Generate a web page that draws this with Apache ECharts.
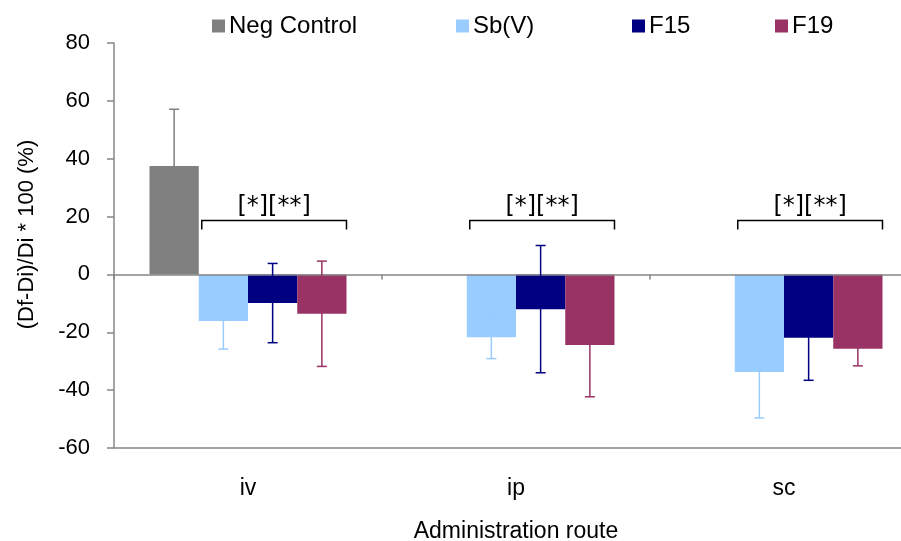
<!DOCTYPE html>
<html>
<head>
<meta charset="utf-8">
<script src="https://cdn.jsdelivr.net/npm/echarts@6/dist/echarts.min.js"></script>
<style>
  html, body { margin: 0; padding: 0; background: #fff; }
  #chart { width: 901px; height: 541px; }
</style>
</head>
<body>
<div id="chart"></div>
<script>
// categories and series
var categories = ['iv', 'ip', 'sc'];
var seriesNames = ['Neg Control', 'Sb(V)', 'F15', 'F19'];
var negControl = [37.5, null, null];
var sbV = [-16.1, -21.7, -33.7];
var f15 = [-9.9, -12.0, -21.9];
var f19 = [-13.6, -24.4, -25.7];
// error bars (+/-)
var negControlErr = [19.6, null, null];
var sbVErr = [9.7, 7.4, 15.9];
var f15Err = [13.7, 22.0, 14.7];
var f19Err = [18.2, 17.9, 5.9];
// significance brackets
var bracketLevel = [18.6, 18.6, 18.6];
var bracketText = ['[*][**]', '[*][**]', '[*][**]'];
// y axis ticks
var yMin = -60, yMax = 80, yStep = 20;

var colors = ['#808080', '#99CCFF', '#000080', '#993366'];
var values = [negControl, sbV, f15, f19];
var errs = [negControlErr, sbVErr, f15Err, f19Err];
var catGap = 0.265;
var font = "'Liberation Sans', Arial, sans-serif";

var myChart = echarts.init(document.getElementById('chart'), null, { renderer: 'canvas' });

function barCenter(api, idx, k) {
  var c = api.coord([idx, 0]);
  var band = api.size([1, 0])[0];
  var total = band * (1 - catGap);
  var w = total / seriesNames.length;
  return { x: c[0] - total / 2 + w * (k + 0.5), w: w, total: total, cx: c[0] };
}

function errorSeries(k) {
  var data = [];
  values[k].forEach(function (v, i) {
    if (v != null && errs[k][i] != null) data.push([i, v, errs[k][i]]);
  });
  return {
    type: 'custom',
    name: seriesNames[k] + ' err',
    z: 5,
    clip: false,
    encode: { x: 0, y: 1 },
    data: data,
    renderItem: function (params, api) {
      var idx = api.value(0), v = api.value(1), e = api.value(2);
      var b = barCenter(api, idx, k);
      var top = api.coord([idx, v + e])[1];
      var bot = api.coord([idx, v - e])[1];
      var st = { stroke: colors[k], lineWidth: 1.5 };
      return {
        type: 'group',
        children: [
          { type: 'line', shape: { x1: b.x, y1: top, x2: b.x, y2: bot }, style: st },
          { type: 'line', shape: { x1: b.x - 5, y1: top, x2: b.x + 5, y2: top }, style: st },
          { type: 'line', shape: { x1: b.x - 5, y1: bot, x2: b.x + 5, y2: bot }, style: st }
        ]
      };
    }
  };
}

var bracketData = bracketLevel.map(function (v, i) { return [i, v, bracketText[i]]; });

var series = seriesNames.map(function (name, k) {
  return {
    type: 'bar',
    name: name,
    data: values[k],
    barGap: '0%',
    barCategoryGap: (catGap * 100) + '%',
    itemStyle: { color: colors[k] },
    z: 2
  };
});
for (var k = 0; k < seriesNames.length; k++) series.push(errorSeries(k));
series.push({
  type: 'custom',
  name: 'brackets',
  z: 6,
  clip: false,
  encode: { x: 0, y: 1 },
  data: bracketData,
  renderItem: function (params, api) {
    var idx = api.value(0), v = api.value(1);
    var b = barCenter(api, idx, 0);
    var x1 = b.cx - b.total / 2 + b.w + 3;
    var x2 = b.cx + b.total / 2;
    var y = api.coord([idx, v])[1];
    return {
      type: 'group',
      children: [
        { type: 'polyline', shape: { points: [[x1, y + 9], [x1, y], [x2, y], [x2, y + 9]] }, style: { stroke: '#000', lineWidth: 1.5, fill: null } },
        { type: 'text', style: { x: (x1 + x2) / 2, y: y - 2, text: bracketData[params.dataIndex][2], textAlign: 'center', textVerticalAlign: 'bottom', fontSize: 24, fontFamily: "'DejaVu Sans', sans-serif", fill: '#000' } }
      ]
    };
  }
});

var legendLeft = [212, 456, 632, 775];
var legends = seriesNames.map(function (name, k) {
  return {
    data: [name],
    left: legendLeft[k],
    top: 14,
    padding: 0,
    icon: 'rect',
    itemWidth: 13,
    itemHeight: 13,
    textStyle: { fontSize: 24, color: '#000', fontFamily: font, padding: [0, 0, 0, -1] },
    selectedMode: false
  };
});

var option = {
  animation: false,
  legend: legends,
  grid: { left: 114, right: -17, top: 43, bottom: 93, containLabel: false, outerBoundsMode: 'none' },
  xAxis: [{
    type: 'category',
    data: categories,
    position: 'bottom',
    axisLine: { onZero: false, lineStyle: { color: '#868686', width: 1.5 } },
    axisTick: { show: false },
    axisLabel: { fontSize: 23, color: '#000', fontFamily: font, margin: 29 },
    name: 'Administration route',
    nameLocation: 'middle',
    nameGap: 72,
    nameTextStyle: { fontSize: 23, color: '#000', fontFamily: font }
  }, {
    type: 'category',
    data: categories,
    position: 'bottom',
    z: 3,
    axisLine: { onZero: true, onZeroAxisIndex: 0, lineStyle: { color: '#868686', width: 1.5 } },
    axisTick: { show: true, length: 5, lineStyle: { color: '#868686', width: 1.5 } },
    axisLabel: { show: false }
  }],
  yAxis: {
    type: 'value',
    min: yMin,
    max: yMax,
    interval: yStep,
    axisLine: { show: true, lineStyle: { color: '#868686', width: 1.5 } },
    axisTick: { show: true, length: 7, lineStyle: { color: '#868686', width: 1.5 } },
    splitLine: { show: false },
    axisLabel: { fontSize: 22, color: '#000', fontFamily: font, margin: 24 },
    name: '(Df-Di)/Di * 100 (%)',
    nameLocation: 'middle',
    nameGap: 76,
    nameTextStyle: { fontSize: 22, color: '#000', fontFamily: font, padding: [0, 0, 0, 22] }
  },
  series: series
};

myChart.setOption(option);
</script>
</body>
</html>
